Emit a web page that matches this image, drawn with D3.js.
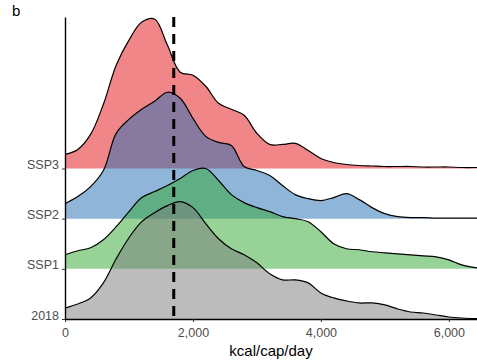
<!DOCTYPE html>
<html>
<head>
<meta charset="utf-8">
<script src="https://cdn.jsdelivr.net/npm/d3@7"></script>
<style>
  body { margin: 0; background: #fff; }
  svg { display: block; font-family: "Liberation Sans", Arial, sans-serif; }
</style>
</head>
<body>
<div class="ridge_chart"></div>
<script>
// kcal grid the densities were read at
var kcal = [0, 200, 400, 600, 800, 1000, 1200, 1400, 1600, 1800, 2000, 2200, 2400, 2600, 2800, 3000,
            3200, 3400, 3600, 3800, 4000, 4200, 4400, 4600, 4800, 5000, 5200, 5400, 5600, 5800, 6000, 6200, 6440];

var categories = ["2018", "SSP1", "SSP2", "SSP3"];

// density heights (1 = one row spacing)
var dens2018 = [0.22, 0.3, 0.42, 0.72, 1.2, 1.62, 1.94, 2.12, 2.26, 2.34, 2.22, 1.9, 1.6, 1.4, 1.28, 1.12,
                0.9, 0.78, 0.78, 0.72, 0.52, 0.42, 0.36, 0.32, 0.32, 0.28, 0.2, 0.14, 0.12, 0.08, 0.04, 0.02, 0.01];
var densSSP1 = [0.28, 0.36, 0.42, 0.58, 0.84, 1.14, 1.42, 1.54, 1.66, 1.8, 1.96, 2.0, 1.76, 1.48, 1.32, 1.22,
                1.14, 1.04, 1.0, 0.94, 0.74, 0.5, 0.4, 0.38, 0.34, 0.32, 0.3, 0.28, 0.26, 0.24, 0.18, 0.08, 0.02];
var densSSP2 = [0.3, 0.44, 0.64, 0.96, 1.7, 1.98, 2.18, 2.34, 2.52, 2.4, 2.0, 1.64, 1.52, 1.46, 1.04, 0.96,
                0.86, 0.66, 0.48, 0.4, 0.36, 0.42, 0.5, 0.38, 0.22, 0.1, 0.04, 0.02, 0.02, 0.01, 0.01, 0.01, 0.01];
var densSSP3 = [0.28, 0.38, 0.68, 1.28, 2.06, 2.56, 2.92, 2.98, 2.46, 1.92, 1.86, 1.64, 1.3, 1.18, 1.06, 0.7,
                0.48, 0.48, 0.5, 0.36, 0.2, 0.12, 0.08, 0.06, 0.05, 0.04, 0.04, 0.04, 0.03, 0.03, 0.03, 0.02, 0.02];

var xTicks = [0, 2000, 4000, 6000];
var refLine = 1700;

var colors = {"2018": "#7a7a7a", "SSP1": "#2fa82f", "SSP2": "#1f6cb3", "SSP3": "#e30e14"};

var series = [
  {name: "2018", values: dens2018},
  {name: "SSP1", values: densSSP1},
  {name: "SSP2", values: densSSP2},
  {name: "SSP3", values: densSSP3}
];

var W = 477, H = 360;
var margin = {top: 17, right: 0, bottom: 41, left: 65};

var svg = d3.select(".ridge_chart")
  .append("svg")
  .attr("width", W)
  .attr("height", H);

var x = d3.scaleLinear()
  .domain([0, 6440])
  .range([margin.left, W - margin.right]);

// rows sit at 0..3, top of panel is a bit above 6 row units
var y = d3.scaleLinear()
  .domain([0, 6.02])
  .range([H - margin.bottom, margin.top]);

var curve = d3.curveCatmullRom.alpha(0.5);

// top row drawn first so lower ridges overlap it
var order = series.slice().reverse();

order.forEach(function(s) {
  var i = categories.indexOf(s.name);
  var pts = kcal.map(function(k, j) { return [k, s.values[j]]; });

  var area = d3.area()
    .x(function(d) { return x(d[0]); })
    .y0(y(i))
    .y1(function(d) { return y(i + d[1]); })
    .curve(curve);

  var line = d3.line()
    .x(function(d) { return x(d[0]); })
    .y(function(d) { return y(i + d[1]); })
    .curve(curve);

  svg.append("path")
    .datum(pts)
    .attr("d", area)
    .attr("fill", colors[s.name])
    .attr("fill-opacity", 0.5);

  svg.append("path")
    .datum(pts)
    .attr("d", line)
    .attr("fill", "none")
    .attr("stroke", "#000")
    .attr("stroke-width", 1.2);
});

// x axis
var xAxis = svg.append("g")
  .attr("transform", "translate(0," + y(0) + ")")
  .call(d3.axisBottom(x).tickValues(xTicks).tickFormat(d3.format(",")).tickSize(3).tickSizeOuter(0).tickPadding(6));

// y axis
var yAxis = svg.append("g")
  .attr("transform", "translate(" + margin.left + ",0)")
  .call(d3.axisLeft(y).tickValues([0, 1, 2, 3]).tickFormat(function(d) { return categories[d]; })
    .tickSize(3).tickSizeOuter(0).tickPadding(3));

[xAxis, yAxis].forEach(function(g) {
  g.select(".domain").attr("stroke", "#000").attr("stroke-width", 1.4);
  g.selectAll(".tick line").attr("stroke", "#333");
  g.selectAll(".tick text").attr("fill", "#4d4d4d").style("font-size", "12.5px");
});
yAxis.selectAll(".tick text").attr("dy", "0em");

// reference line
svg.append("line")
  .attr("x1", x(refLine)).attr("x2", x(refLine))
  .attr("y1", margin.top).attr("y2", y(0))
  .attr("stroke", "#000")
  .attr("stroke-width", 3)
  .attr("stroke-dasharray", "10,7");

svg.append("text")
  .attr("x", (margin.left + W - margin.right) / 2)
  .attr("y", 356)
  .attr("text-anchor", "middle")
  .style("font-size", "15px")
  .attr("fill", "#000")
  .text("kcal/cap/day");

svg.append("text")
  .attr("x", 12)
  .attr("y", 16)
  .style("font-size", "15px")
  .attr("fill", "#000")
  .text("b");
</script>
</body>
</html>
